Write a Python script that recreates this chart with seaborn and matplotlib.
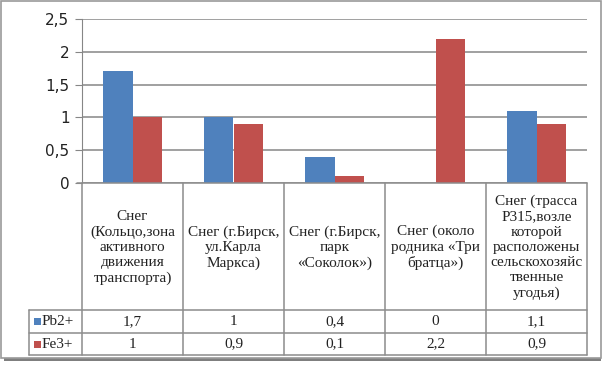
import numpy as np
import pandas as pd
import matplotlib
matplotlib.use("Agg")
import matplotlib.pyplot as plt
import seaborn as sns
from matplotlib.lines import Line2D
from matplotlib.patches import Rectangle

# --- datos ---
categorias = [
    "Снег\n(Кольцо,зона\nактивного\nдвижения\nтранспорта)",
    "Снег (г.Бирск,\nул.Карла\nМаркса)",
    "Снег (г.Бирск,\nпарк\n«Соколок»)",
    "Снег (около\nродника «Три\nбратца»)",
    "Снег (трасса\nР315,возле\nкоторой\nрасположены\nсельскохозяйс\nтвенные\nугодья)",
]
series = ["Pb2+", "Fe3+"]
pb2 = [1.7, 1, 0.4, 0, 1.1]
fe3 = [1, 0.9, 0.1, 2.2, 0.9]
colores = ["#4F81BD", "#C0504D"]
yticks = [0, 0.5, 1, 1.5, 2, 2.5]

df = pd.DataFrame({
    "cat": list(range(len(categorias))) * 2,
    "ion": [series[0]] * len(pb2) + [series[1]] * len(fe3),
    "val": pb2 + fe3,
})

W, H = 607, 365
fig = plt.figure(figsize=(W / 100, H / 100), dpi=100)
sns.set_style("white")
plt.rcParams["font.family"] = ["DejaVu Sans"]

def fx(px):
    return px / W

def fy(py):
    return 1 - py / H

# marco exterior con sombra
fig.add_artist(Rectangle((fx(4), fy(361)), fx(601) - fx(4), fy(4) - fy(361),
                         transform=fig.transFigure, facecolor="#7f7f7f", edgecolor="none", zorder=-2))
fig.add_artist(Rectangle((fx(1), fy(358)), fx(601) - fx(1), fy(1) - fy(358),
                         transform=fig.transFigure, facecolor="white", edgecolor="#9a9a9a", lw=1.2, zorder=-1))

x0, x1, ytop, ybot = 82, 587, 19, 183
ax = fig.add_axes([fx(x0), fy(ybot), fx(x1) - fx(x0), fy(ytop) - fy(ybot)])
ax.set_facecolor("none")

sns.barplot(data=df, x="cat", y="val", hue="ion", palette=colores, width=0.58,
            ax=ax, saturation=1, legend=False, edgecolor="none")

ax.set_xlim(-0.5, len(categorias) - 0.5)
ax.set_ylim(0, 2.5)
ax.set_yticks(yticks)
ax.set_yticklabels([f"{v:g}".replace(".", ",") for v in yticks], fontsize=11, color="#222222")
ax.set_xticks([])
ax.set_xlabel("")
ax.set_ylabel("")
ax.grid(axis="y", color="#868686", lw=1.1)
ax.set_axisbelow(True)
for s in ["top", "right", "bottom"]:
    ax.spines[s].set_visible(False)
ax.spines["left"].set_color("#868686")
ax.tick_params(axis="y", left=True, length=5, color="#868686", pad=4)

# --- tabla de datos ---
lc = "#8c8c8c"
col_w = (x1 - x0) / len(categorias)
y_hdr, y_r1, y_r2 = 310, 333, 355
xl = 29

def hline(xa, xb, y):
    fig.add_artist(Line2D([fx(xa), fx(xb)], [fy(y), fy(y)], transform=fig.transFigure, color=lc, lw=1.1))

def vline(x, ya, yb):
    fig.add_artist(Line2D([fx(x), fx(x)], [fy(ya), fy(yb)], transform=fig.transFigure, color=lc, lw=1.1))

hline(x0 - 5, x1, ybot)
hline(xl, x1, y_hdr)
hline(xl, x1, y_r1)
hline(xl, x1, y_r2)
for i in range(len(categorias) + 1):
    vline(x0 + i * col_w, ybot, y_r2)
vline(xl, y_hdr, y_r2)

serif = ["Liberation Serif", "DejaVu Serif"]
for i, cat in enumerate(categorias):
    cx = x0 + (i + 0.5) * col_w
    fig.text(fx(cx), fy((ybot + y_hdr) / 2 + 1), cat, ha="center", va="center",
             fontsize=11, family=serif, linespacing=1.22, color="#222222")

for vals, nombre, color, (ya, yb) in zip([pb2, fe3], series, colores, [(y_hdr, y_r1), (y_r1, y_r2)]):
    yc = (ya + yb) / 2
    fig.add_artist(Rectangle((fx(34), fy(yc + 3.5)), fx(7), 7 / H, transform=fig.transFigure,
                             facecolor=color, edgecolor="none"))
    fig.text(fx(42), fy(yc), nombre, ha="left", va="center", fontsize=11, family=serif, color="#222222")
    for i, v in enumerate(vals):
        cx = x0 + (i + 0.5) * col_w
        fig.text(fx(cx), fy(yc), f"{v:g}".replace(".", ","), ha="center", va="center",
                 fontsize=11, family=serif, color="#222222")

fig.savefig("out.png", dpi=100)
